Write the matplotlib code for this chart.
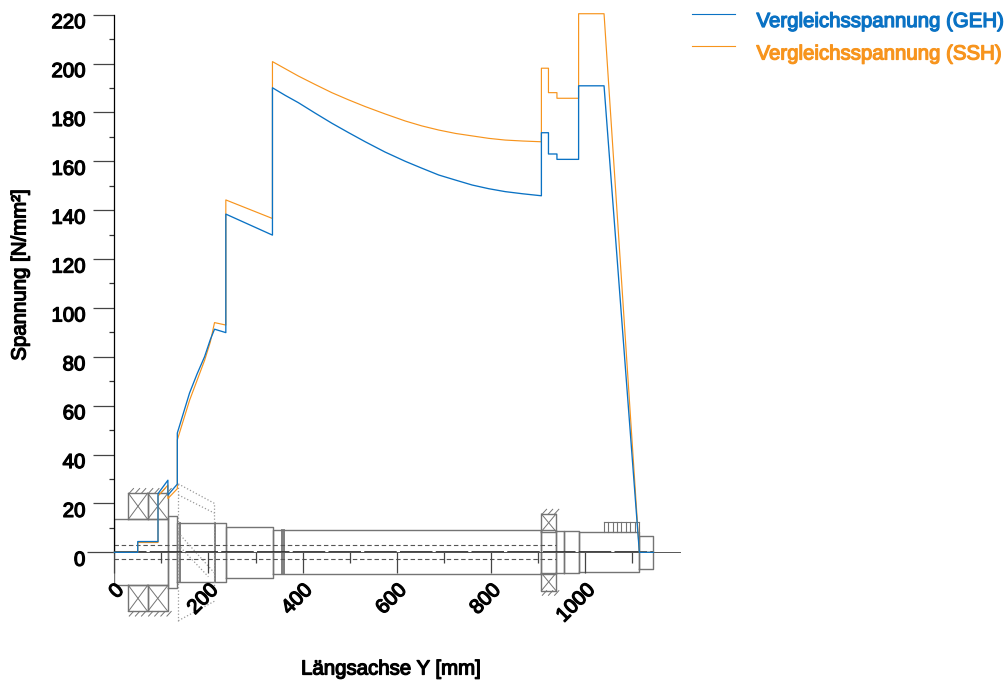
import matplotlib
matplotlib.use("Agg")
import matplotlib.pyplot as plt
import matplotlib.patheffects as pe
from matplotlib.lines import Line2D
from matplotlib.transforms import ScaledTranslation

plt.rcParams['font.family'] = ['Liberation Sans', 'DejaVu Sans']

# Spannungsverlauf
y_mm = [0, 50, 50, 93, 93, 114, 114, 134, 134, 160, 176, 192, 204, 213, 237, 237, 336, 336, 363, 391, 426, 462, 497, 533, 575, 618, 653, 689, 725, 760, 795, 830, 868, 907, 907, 922, 922, 940, 940, 986, 986, 1040, 1115, 1145]
geh = [0, 0, 4.4, 4.4, 24, 29.5, 23.4, 27.9, 48.8, 65.2, 73, 80.1, 87, 91.3, 89.9, 138.4, 129.8, 190.1, 187, 184, 179.8, 175.6, 171.8, 168, 163.8, 160, 157.2, 154.4, 152.3, 150.3, 148.8, 147.6, 146.7, 145.9, 171.7, 171.7, 163, 163, 160.8, 160.8, 190.9, 190.9, 0, 0]
ssh = [0, 0, 4.0, 4.0, 23, 27.5, 22, 26, 46, 62.2, 70.4, 78.6, 86, 94, 93, 144.2, 136.6, 200.8, 197.9, 194.9, 191.5, 188.1, 185.2, 182.4, 179.4, 176.5, 174.5, 172.8, 171.4, 170.4, 169.4, 168.7, 168.3, 168, 198.1, 198.1, 188.1, 188.1, 185.8, 185.8, 220.4, 220.4, 0, 0]

# Welle: Abschnitte (von, bis, halbe Hoehe)
shaft = [(0, 114, 13.5), (114, 134, 14.8), (134, 237, 12.1), (237, 337, 10.5), (337, 907, 9), (907, 938, 9),
         (938, 955, 8.6), (955, 986, 8.6), (986, 1115, 8.2), (1115, 1145, 6.8)]
shaft_lines = [(140, 12.1), (213, 12.1), (356, 9), (361, 9)]
# Lager (von, bis, innen, aussen)
bearings = [(30, 71, 13.5, 24.2), (71, 114, 13.5, 24.2), (907, 938, 8.5, 15.7)]
gear_teeth = [1040, 1049, 1058, 1068, 1077, 1087, 1096, 1105, 1115]
y_ticks = list(range(0, 221, 20))
x_ticks = [0, 200, 400, 600, 800, 1000]

W, H = 1005, 684
blue = '#0a72c4'
orange = '#f7941d'
gray = '#747474'
stroke = 0.9
fs = 14.7


def bold(t, color='black'):
    t.set_path_effects([pe.withStroke(linewidth=stroke, foreground=color)])
    return t


fig = plt.figure(figsize=(W / 100, H / 100), dpi=100)
px_mm = 0.471
px_val = 2.4436
ax_top, ax_bottom = 14.7, 625.0
ax = fig.add_axes([114.2 / W, 1 - ax_bottom / H, 566 / W, (ax_bottom - ax_top) / H])
ax.set_xlim(0, 566 / px_mm)
ax.set_ylim(-(ax_bottom - 552.3) / px_val, 220)
ax.patch.set_alpha(0)

for s in ['top', 'right']:
    ax.spines[s].set_visible(False)
ax.spines['left'].set_bounds(0, 220)
ax.spines['left'].set_linewidth(0.9)
ax.spines['bottom'].set_position(('data', 0))
ax.spines['bottom'].set_linewidth(0.7)
ax.spines['bottom'].set_color('#555555')

# Welle zeichnen
for a, b, h in shaft:
    ax.plot([a, a, b, b, a], [-h, h, h, -h, -h], color=gray, lw=1.0, zorder=1)
for x, h in shaft_lines:
    ax.plot([x, x], [-h, h], color=gray, lw=1.3, zorder=1)
for a, b, i, o in bearings:
    for sg in [1, -1]:
        ax.plot([a, a, b, b, a], [sg * i, sg * o, sg * o, sg * i, sg * i], color=gray, lw=1.0, zorder=1)
        ax.plot([a, b], [sg * i, sg * o], color=gray, lw=0.7, zorder=1)
        ax.plot([a, b], [sg * o, sg * i], color=gray, lw=0.7, zorder=1)
        hx = a + 2
        while hx < b:
            ax.plot([hx, hx + 9], [sg * o + (0 if sg > 0 else -1.9), sg * o + (1.9 if sg > 0 else 0)], color=gray, lw=0.7, zorder=1)
            hx += 13
for x in gear_teeth:
    ax.plot([x, x], [8.2, 12.6], color=gray, lw=0.8, zorder=1)
ax.plot(gear_teeth[:1] + gear_teeth[-1:], [12.6, 12.6], color=gray, lw=0.8, zorder=1)
for h in [2.9, -2.9]:
    ax.plot([0, 938], [h, h], color='#555555', lw=0.8, ls=(0, (4, 2.5)), zorder=1)
ax.plot([136, 136], [-28, 28], color='#999999', lw=0.9, ls=':', zorder=1)
ax.plot([136, 213, 213], [28, 20, -14], color='#999999', lw=0.9, ls=':', zorder=1)
ax.plot([136, 213], [23.5, 16], color='#999999', lw=0.9, ls=':', zorder=1)
ax.plot([136, 213], [-28, -20], color='#999999', lw=0.9, ls=':', zorder=1)
ax.plot([136, 213], [8, -8.5], color='#999999', lw=0.9, ls=':', zorder=1)
ax.plot([136, 200], [3, -10], color='#999999', lw=0.9, ls=':', zorder=1)
# Mittellinie
ax.plot([0, 1145], [0, 0], color='#333333', lw=1.3, ls=(0, (18, 1.8)), zorder=2)

# Kurven
ax.plot(y_mm, ssh, color=orange, lw=0.85, clip_on=False, zorder=3)
ax.plot(y_mm, geh, color=blue, lw=0.95, clip_on=False, zorder=4)

# Achsen
ax.set_yticks(y_ticks)
ax.set_yticks([v + 10 for v in y_ticks[:-1]], minor=True)
ax.set_xticks(x_ticks)
ax.set_xticks([v + 100 for v in x_ticks], minor=True)
ax.tick_params(axis='y', which='major', length=21 * 0.72, width=0.9, pad=8 * 0.72, color='#444444')
ax.tick_params(axis='y', which='minor', length=5 * 0.72, width=0.9, color='#333333')
ax.tick_params(axis='x', which='major', length=21 * 0.72, width=0.9, pad=14 * 0.72, color='#444444')
ax.tick_params(axis='x', which='minor', length=11 * 0.72, width=0.9, color='#444444')
ax.yaxis.get_major_ticks()[0].tick1line.set_markersize(27 * 0.72)

ax.set_yticklabels([str(v) for v in y_ticks], fontsize=fs)
ax.set_xticklabels([str(v) for v in x_ticks], fontsize=fs, rotation=45, ha='right', va='center', rotation_mode='anchor')
x_off = ScaledTranslation(6.5 / 100, 0, fig.dpi_scale_trans)
for t in ax.get_xticklabels():
    t.set_transform(t.get_transform() + x_off)
    bold(t)
y_off = ScaledTranslation(0, -6 / 100, fig.dpi_scale_trans)
for t in ax.get_yticklabels():
    t.set_transform(t.get_transform() + y_off)
    bold(t)

bold(fig.text(20 / W, 1 - 275 / H, 'Spannung [N/mm²]', rotation=90, fontsize=fs, ha='center', va='center'))
bold(fig.text(391 / W, 1 - 669 / H, 'Längsachse Y [mm]', fontsize=fs, ha='center', va='center'))

# Legende
for yl, yt, c, name in [(13.5, 21.5, blue, 'Vergleichsspannung (GEH)'), (46, 54, orange, 'Vergleichsspannung (SSH)')]:
    fig.add_artist(Line2D([692 / W, 735 / W], [1 - yl / H, 1 - yl / H], color=c, lw=0.8))
    bold(fig.text(756.5 / W, 1 - yt / H, name, color=c, fontsize=fs, ha='left', va='center'), c)

fig.savefig('out.png', dpi=100)
